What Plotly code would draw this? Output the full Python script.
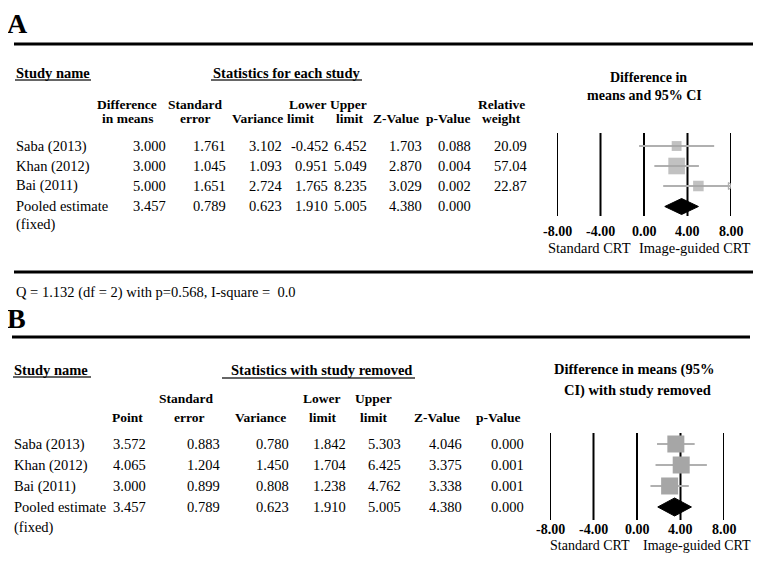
import math
import plotly.graph_objects as go

W, H = 761, 562
OFF = 8                     # page body margin of the browser
FW, FH = W - 2 * OFF, H - 2 * OFF
FONT = "Liberation Serif"

# ---------------- data ----------------
studies = ["Saba (2013)", "Khan (2012)", "Bai (2011)"]

# Panel A: statistics for each study
a_diff = [3.000, 3.000, 5.000]
a_se = [1.761, 1.045, 1.651]
a_var = [3.102, 1.093, 2.724]
a_lower = [-0.452, 0.951, 1.765]
a_upper = [6.452, 5.049, 8.235]
a_z = [1.703, 2.870, 3.029]
a_p = [0.088, 0.004, 0.002]
a_weight = [20.09, 57.04, 22.87]

pooled = {"est": 3.457, "se": 0.789, "var": 0.623, "lower": 1.910,
          "upper": 5.005, "z": 4.380, "p": 0.000}

# Panel B: statistics with study removed
b_point = [3.572, 4.065, 3.000]
b_se = [0.883, 1.204, 0.899]
b_var = [0.780, 1.450, 0.808]
b_lower = [1.842, 1.704, 1.238]
b_upper = [5.303, 6.425, 4.762]
b_z = [4.046, 3.375, 3.338]
b_p = [0.000, 0.001, 0.001]

tick_vals = [-8, -4, 0, 4, 8]
tick_text = ["-8.00", "-4.00", "0.00", "4.00", "8.00"]
axis_range = [-8, 8]

heterogeneity = "Q = 1.132 (df = 2) with p=0.568, I-square =  0.0"

# ---------------- helpers ----------------
annotations = []
shapes = []
BODY = 14.5
HDR = 13.5
TITLE = 14.5


def px(x):
    return (x - OFF) / FW


def py(y):
    return 1 - (y - OFF) / FH


def txt(x, y, s, size=BODY, bold=False, anchor="center", xref="paper",
        yanchor="middle"):
    annotations.append(dict(
        x=px(x) if xref == "paper" else x,
        y=py(y) if y is not None else 0, xref=xref, yref="paper",
        text=f"<b>{s}</b>" if bold else s, showarrow=False,
        xanchor=anchor, yanchor=yanchor, borderpad=0,
        font=dict(family=FONT, size=size, color="black")))


def hline(x0, x1, y, width=3, color="black"):
    shapes.append(dict(type="line", xref="paper", yref="paper",
                       x0=px(x0), x1=px(x1), y0=py(y), y1=py(y),
                       line=dict(color=color, width=width)))


def grid(xref, yref):
    for tv in tick_vals:
        shapes.append(dict(type="line", xref=xref, yref=f"{yref} domain",
                           x0=tv, x1=tv, y0=0, y1=1, layer="below",
                           line=dict(color="black", width=2)))


fig = go.Figure()
GRAY = "#a6a6a6"
LGRAY = "#b0b0b0"

# ================= Panel A =================
txt(17, 23, "A", size=28, bold=True)
hline(14, 758, 44, width=3)
txt(15, 73, "Study name", size=TITLE, bold=True, anchor="left")
hline(15, 91, 80, width=1.5, color="#333")
txt(286, 73, "Statistics for each study", size=TITLE, bold=True)
hline(211, 362, 80, width=1.5, color="#333")
txt(648, 77, "Difference in", size=14, bold=True)
txt(644, 95, "means and 95% CI", size=14, bold=True)

hdr_top_y, hdr_bot_y = 104, 119
txt(127, hdr_top_y, "Difference", size=HDR, bold=True)
txt(127, hdr_bot_y, "in means", size=HDR, bold=True)
txt(195, hdr_top_y, "Standard", size=HDR, bold=True)
txt(195, hdr_bot_y, "error", size=HDR, bold=True)
txt(257, hdr_bot_y, "Variance", size=HDR, bold=True)
txt(308, hdr_top_y, "Lower", size=HDR, bold=True)
txt(300, hdr_bot_y, "limit", size=HDR, bold=True)
txt(348, hdr_top_y, "Upper", size=HDR, bold=True)
txt(349, hdr_bot_y, "limit", size=HDR, bold=True)
txt(396, hdr_bot_y, "Z-Value", size=HDR, bold=True)
txt(448, hdr_bot_y, "p-Value", size=HDR, bold=True)
txt(501, hdr_top_y, "Relative", size=HDR, bold=True)
txt(502, hdr_bot_y, "weight", size=HDR, bold=True)

a_rows_y = [146, 166, 186, 206]
a_cols_r = [167, 227, 283, 329, 368, 423, 472, 528]
for i, name in enumerate(studies):
    y = a_rows_y[i]
    txt(15, y, name, anchor="left")
    vals = [f"{a_diff[i]:.3f}", f"{a_se[i]:.3f}", f"{a_var[i]:.3f}",
            f"{a_lower[i]:.3f}", f"{a_upper[i]:.3f}", f"{a_z[i]:.3f}",
            f"{a_p[i]:.3f}", f"{a_weight[i]:.2f}"]
    for xr, v in zip(a_cols_r, vals):
        txt(xr, y, v, anchor="right")
y = a_rows_y[3]
txt(15, y, "Pooled estimate", anchor="left")
txt(15, y + 19, "(fixed)", anchor="left")
pvals = [f"{pooled[k]:.3f}" for k in ["est", "se", "var", "lower", "upper", "z", "p"]]
for xr, v in zip(a_cols_r[:7], pvals):
    txt(xr, y, v, anchor="right")

hline(14, 757, 272, width=3)
txt(15, 292, heterogeneity, anchor="left")

# forest A
grid("x", "y")
for tv, tt in zip(tick_vals, tick_text):
    txt(tv, 231, tt, size=14, bold=True, xref="x")
txt(-5.0, 248, "Standard CRT", xref="x")
txt(752, 248, "Image-guided CRT", anchor="right")

for i in range(3):
    hi = min(a_upper[i], axis_range[1])
    fig.add_trace(go.Scatter(x=[a_lower[i], hi], y=[i, i], mode="lines",
                             line=dict(color=LGRAY, width=2), xaxis="x", yaxis="y",
                             showlegend=False, hoverinfo="skip"))
    if a_upper[i] > axis_range[1]:
        fig.add_trace(go.Scatter(x=[axis_range[1] - 0.1], y=[i], mode="markers",
                                 marker=dict(symbol="triangle-right-open", size=6,
                                             color=LGRAY, line=dict(width=1.2, color=LGRAY)),
                                 xaxis="x", yaxis="y", showlegend=False, hoverinfo="skip"))
fig.add_trace(go.Scatter(x=a_diff, y=[0, 1, 2], mode="markers",
                         marker=dict(symbol="square", color=GRAY,
                                     size=[2.2 * math.sqrt(w) for w in a_weight],
                                     line=dict(width=0)),
                         xaxis="x", yaxis="y", showlegend=False, hoverinfo="skip"))
hA, rA = 0.4, 3.025
fig.add_trace(go.Scatter(
    x=[pooled["lower"], pooled["est"], pooled["upper"], pooled["est"], pooled["lower"]],
    y=[rA, rA - hA, rA, rA + hA, rA], mode="lines", fill="toself",
    fillcolor="black", line=dict(color="black", width=1),
    xaxis="x", yaxis="y", showlegend=False, hoverinfo="skip"))

# ================= Panel B =================
txt(16, 318, "B", size=28, bold=True)
hline(12, 750, 337, width=3)
txt(13, 370, "Study name", size=TITLE, bold=True, anchor="left")
hline(13, 91, 377, width=1.5, color="#333")
txt(321, 370, "Statistics with study removed", size=TITLE, bold=True)
hline(222, 415, 378, width=1.5, color="#333")
txt(634, 369, "Difference in means (95%", size=14.5, bold=True)
txt(637, 390, "CI) with study removed", size=14.5, bold=True)

hb_top, hb_bot = 398, 417
txt(127, hb_bot, "Point", size=HDR, bold=True)
txt(186, hb_top, "Standard", size=HDR, bold=True)
txt(189, hb_bot, "error", size=HDR, bold=True)
txt(260, hb_bot, "Variance", size=HDR, bold=True)
txt(322, hb_top, "Lower", size=HDR, bold=True)
txt(322, hb_bot, "limit", size=HDR, bold=True)
txt(373, hb_top, "Upper", size=HDR, bold=True)
txt(373, hb_bot, "limit", size=HDR, bold=True)
txt(437, hb_bot, "Z-Value", size=HDR, bold=True)
txt(498, hb_bot, "p-Value", size=HDR, bold=True)

b_rows_y = [444, 465, 486, 507]
b_cols_r = [147, 221, 290, 347, 402, 463, 525]
for i, name in enumerate(studies):
    y = b_rows_y[i]
    txt(13, y, name, anchor="left")
    vals = [f"{b_point[i]:.3f}", f"{b_se[i]:.3f}", f"{b_var[i]:.3f}",
            f"{b_lower[i]:.3f}", f"{b_upper[i]:.3f}", f"{b_z[i]:.3f}",
            f"{b_p[i]:.3f}"]
    for xr, v in zip(b_cols_r, vals):
        txt(xr, y, v, anchor="right")
y = b_rows_y[3]
txt(13, y, "Pooled estimate", anchor="left")
txt(13, y + 20, "(fixed)", anchor="left")
for xr, v in zip(b_cols_r, pvals):
    txt(xr, y, v, anchor="right")

grid("x2", "y2")
for tv, tt in zip(tick_vals, tick_text):
    txt(tv, 529, tt, size=14, bold=True, xref="x2")
txt(-4.3, None, "Standard CRT", size=14, xref="x2", yanchor="bottom")
txt(752, None, "Image-guided CRT", size=14, anchor="right", yanchor="bottom")

for i in range(3):
    fig.add_trace(go.Scatter(x=[b_lower[i], b_upper[i]], y=[i, i], mode="lines",
                             line=dict(color=LGRAY, width=2), xaxis="x2", yaxis="y2",
                             showlegend=False, hoverinfo="skip"))
fig.add_trace(go.Scatter(x=b_point, y=[0, 1, 2], mode="markers",
                         marker=dict(symbol="square", color=GRAY, size=17,
                                     line=dict(width=0)),
                         xaxis="x2", yaxis="y2", showlegend=False, hoverinfo="skip"))
hB = 0.43
fig.add_trace(go.Scatter(
    x=[pooled["lower"], pooled["est"], pooled["upper"], pooled["est"], pooled["lower"]],
    y=[3, 3 - hB, 3, 3 + hB, 3], mode="lines", fill="toself",
    fillcolor="black", line=dict(color="black", width=1),
    xaxis="x2", yaxis="y2", showlegend=False, hoverinfo="skip"))

xcommon = dict(range=axis_range, showticklabels=False, showgrid=False,
               zeroline=False, showline=False, ticks="", fixedrange=True)
fig.update_layout(
    width=FW, height=FH, margin=dict(l=0, r=0, t=0, b=0),
    paper_bgcolor="white", plot_bgcolor="rgba(0,0,0,0)",
    showlegend=False,
    xaxis=dict(domain=[px(557), px(731)], anchor="y", **xcommon),
    yaxis=dict(domain=[py(216), py(133)], range=[3.5, -0.65], visible=False,
               anchor="x", fixedrange=True),
    xaxis2=dict(domain=[px(550), px(724)], anchor="y2", **xcommon),
    yaxis2=dict(domain=[py(520), py(433)], range=[3.62, -0.524], visible=False,
                anchor="x2", fixedrange=True),
    annotations=annotations, shapes=shapes,
)

fig.write_html("out.html")
